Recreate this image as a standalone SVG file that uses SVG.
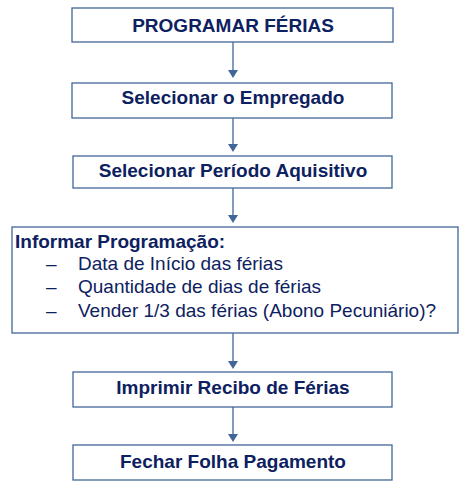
<svg xmlns="http://www.w3.org/2000/svg" width="473" height="493" viewBox="0 0 473 493">
<defs>
<style>
.box{fill:#fff;stroke:#41679a;stroke-width:1.3}
.t{font-family:"Liberation Sans",Arial,sans-serif;fill:#0d2160;font-size:19px}
.b{font-weight:bold}
.c{stroke:#41679a;stroke-width:1.3;fill:none}
.h{fill:#41679a}
</style>
</defs>
<rect width="473" height="493" fill="#fff"/>
<g id="connectors">
<line class="c" x1="233" y1="42" x2="233" y2="73"/><path class="h" d="M228,70 L238,70 L233,78 z"/>
<line class="c" x1="233" y1="118" x2="233" y2="148"/><path class="h" d="M228,144 L238,144 L233,152 z"/>
<line class="c" x1="233" y1="188" x2="233" y2="219"/><path class="h" d="M228,215 L238,215 L233,223 z"/>
<line class="c" x1="233" y1="333" x2="233" y2="365"/><path class="h" d="M228,361 L238,361 L233,369 z"/>
<line class="c" x1="233" y1="407" x2="233" y2="437"/><path class="h" d="M228,434 L238,434 L233,442 z"/>
</g>
<g id="n1"><rect class="box" x="72" y="8" width="321" height="34"/><text class="t b" x="233" y="32" text-anchor="middle" font-size="20">PROGRAMAR FÉRIAS</text></g>
<g id="n2"><rect class="box" x="72" y="83" width="320" height="35"/><text class="t b" x="233" y="104" text-anchor="middle">Selecionar o Empregado</text></g>
<g id="n3"><rect class="box" x="73" y="156" width="319" height="32"/><text class="t b" x="233" y="177" text-anchor="middle">Selecionar Período Aquisitivo</text></g>
<g id="n4"><rect class="box" x="12" y="227" width="446" height="106"/>
<text class="t b" x="15" y="248">Informar Programação:</text>
<text class="t" x="46" y="270">–</text><text class="t" x="78" y="270">Data de Início das férias</text>
<text class="t" x="46" y="293">–</text><text class="t" x="78" y="293">Quantidade de dias de férias</text>
<text class="t" x="46" y="317">–</text><text class="t" x="78" y="317">Vender 1/3 das férias (Abono Pecuniário)?</text>
</g>
<g id="n5"><rect class="box" x="73" y="372" width="319" height="35"/><text class="t b" x="233" y="394" text-anchor="middle">Imprimir Recibo de Férias</text></g>
<g id="n6"><rect class="box" x="73" y="445" width="319" height="35"/><text class="t b" x="233" y="468" text-anchor="middle">Fechar Folha Pagamento</text></g>
</svg>
